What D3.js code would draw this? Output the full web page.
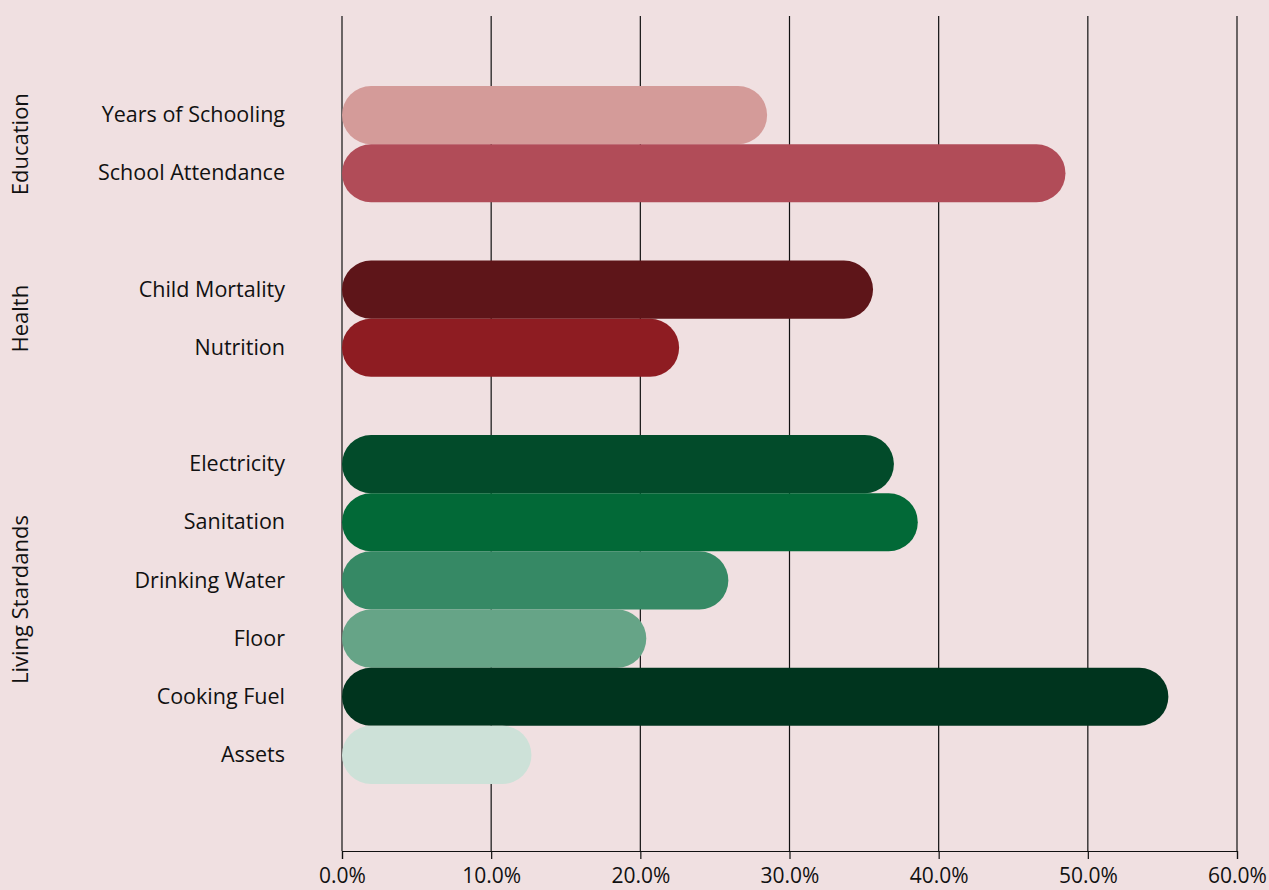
<!DOCTYPE html>
<html>
<head>
<meta charset="utf-8">
<script src="https://cdn.jsdelivr.net/npm/d3@7"></script>
<style>
  html, body { margin: 0; padding: 0; background: #f0e0e1; }
  svg { display: block; }
  .cat { font-family: "Open Sans", "Noto Sans", sans-serif; font-size: 21.5px; fill: #111; }
  .grp { font-family: "Open Sans", "Noto Sans", sans-serif; font-size: 22px; fill: #111; }
  .tick text { font-family: "Liberation Sans Narrow", "Open Sans", sans-serif; font-size: 21px; fill: #111; }
</style>
</head>
<body>
<svg id="chart" width="1269" height="890"></svg>
<script>
// Share of people deprived in each indicator (%)
const indicators = ["Years of Schooling", "School Attendance", "Child Mortality", "Nutrition",
  "Electricity", "Sanitation", "Drinking Water", "Floor", "Cooking Fuel", "Assets"];
const values = [28.5, 48.5, 35.6, 22.6, 37.0, 38.6, 25.9, 20.4, 55.4, 12.7];
const colors = ["#d49b99", "#b14c58", "#5e1519", "#8e1c22", "#024b2a", "#026937",
  "#368965", "#66a487", "#00341e", "#cde1d8"];
const groups = ["Education", "Health", "Living Stardands"];
const groupMembers = [["Years of Schooling", "School Attendance"],
  ["Child Mortality", "Nutrition"],
  ["Electricity", "Sanitation", "Drinking Water", "Floor", "Cooking Fuel", "Assets"]];
const tickValues = [0, 10, 20, 30, 40, 50, 60];

// Row slots: each group's indicators, with an empty slot between groups
const slots = [];
groupMembers.forEach((m, i) => {
  if (i > 0) slots.push("__gap" + i);
  slots.push(...m);
});

const svg = d3.select("#chart");
const x = d3.scaleLinear().domain([0, 60]).range([342, 1237]);
const y = d3.scaleBand().domain(slots).range([86, 784]).padding(0);

// Vertical gridlines
svg.append("g").selectAll("line").data(tickValues).join("line")
  .attr("x1", d => x(d)).attr("x2", d => x(d))
  .attr("y1", 16).attr("y2", 851)
  .attr("stroke", "#111").attr("stroke-width", 1.2);

// Bottom axis
const axis = svg.append("g")
  .attr("transform", "translate(0,851)")
  .call(d3.axisBottom(x).tickValues(tickValues).tickSize(8).tickPadding(9)
    .tickFormat(d => d.toFixed(1) + "%"));
axis.select(".domain").attr("stroke", "#111").attr("stroke-width", 1.2);
axis.selectAll(".tick line").attr("stroke", "#111").attr("stroke-width", 1.2);

// Rounded bars
const data = indicators.map((n, i) => ({ name: n, value: values[i], color: colors[i] }));
svg.append("g").selectAll("rect").data(data).join("rect")
  .attr("x", x(0))
  .attr("y", d => y(d.name))
  .attr("width", d => x(d.value) - x(0))
  .attr("height", y.bandwidth())
  .attr("rx", y.bandwidth() / 2)
  .attr("fill", d => d.color);

// Indicator labels
svg.append("g").selectAll("text").data(data).join("text")
  .attr("class", "cat")
  .attr("x", 285)
  .attr("y", d => y(d.name) + y.bandwidth() / 2)
  .attr("dy", "0.33em")
  .attr("text-anchor", "end")
  .text(d => d.name);

// Rotated group labels
svg.append("g").selectAll("text").data(groups).join("text")
  .attr("class", "grp")
  .attr("transform", (g, i) => {
    const m = groupMembers[i];
    const cy = (y(m[0]) + y(m[m.length - 1]) + y.bandwidth()) / 2;
    return `translate(28,${cy - (m.length > 2 ? 10 : 0)}) rotate(-90)`;
  })
  .attr("text-anchor", "middle")
  .text(d => d);
</script>
</body>
</html>
